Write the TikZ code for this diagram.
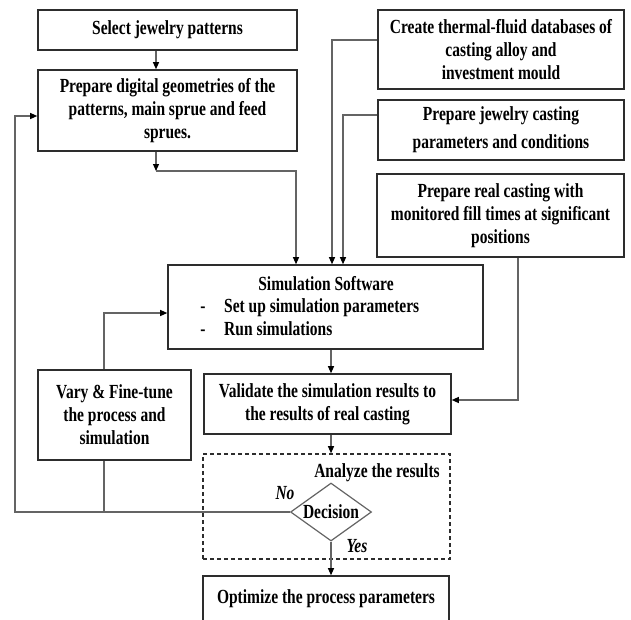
\documentclass[tikz,border=0pt]{standalone}
\usepackage{fontspec}
\setmainfont{Liberation Serif}[FakeStretch=0.775]
\usetikzlibrary{arrows.meta,shapes.geometric}
\definecolor{boxc}{RGB}{45,45,45}
\definecolor{linec}{RGB}{100,100,100}
\tikzset{
  box/.style={draw=boxc, line width=1.6pt, rectangle, inner sep=2pt, align=center,
    font=\fontsize{20}{23}\selectfont\bfseries, text=black},
  lbl/.style={font=\fontsize{20}{23}\selectfont\bfseries, text=black, inner sep=0pt},
  conn/.style={draw=linec, line width=1.1pt},
  arr/.style={conn, -{Triangle[length=7pt,width=6pt,color=black]}},
}
\begin{document}
\begin{tikzpicture}[x=1pt,y=-1pt]
\path[use as bounding box,clip] (0,0) rectangle (631,619);
% boxes
\node[box, minimum width=259pt, minimum height=40pt] (sel) at (167.5,30) {Select jewelry patterns};
\node[box, minimum width=259pt, minimum height=81pt] (geo) at (167.5,110.5) {Prepare digital geometries of the\\patterns, main sprue and feed\\sprues.};
\node[box, minimum width=246pt, minimum height=79pt] (therm) at (501,49.5) {Create thermal-fluid databases of\\casting alloy and\\investment mould};
\node[box, minimum width=246pt, minimum height=60pt, font=\fontsize{20}{28}\selectfont\bfseries] (par) at (501,130) {Prepare jewelry casting\\parameters and conditions};
\node[box, minimum width=247pt, minimum height=83pt] (real) at (500.5,215.5) {Prepare real casting with\\monitored fill times at significant\\positions};
\node[box, minimum width=315pt, minimum height=84pt] (sim) at (325.5,307) {};
\node[lbl] (simt) at (326,284) {Simulation Software};
\node[lbl, anchor=base west] (st1) at (224,312) {Set up simulation parameters};
\node[lbl, anchor=base west] (st2) at (224,335) {Run simulations};
\node[lbl, anchor=base] (d1) at (st1.base -| 203,0) {-};
\node[lbl, anchor=base] (d2) at (st2.base -| 203,0) {-};
\node[box, minimum width=247pt, minimum height=60pt] (val) at (327.5,404) {Validate the simulation results to\\the results of real casting};
\node[box, minimum width=153pt, minimum height=90pt] (vary) at (114.5,415) {Vary \& Fine-tune\\the process and\\simulation};
\node[box, dashed, dash pattern=on 4pt off 3pt, minimum width=247pt, minimum height=105pt] (ana) at (326.5,506.5) {};
\node[lbl] (anat) at (377,473) {Analyze the results};
\node[diamond, draw=linec, line width=1.2pt, inner sep=0pt, aspect=1.4, minimum width=81pt, minimum height=58pt,
      font=\fontsize{20}{23}\selectfont\bfseries] (dec) at (331,512) {Decision};
\node[lbl, font=\fontsize{20}{23}\selectfont\bfseries\itshape] (no) at (285,493) {No};
\node[lbl, font=\fontsize{20}{23}\selectfont\bfseries\itshape] (yes) at (357,546) {Yes};
\node[box, minimum width=246pt, minimum height=46pt] (opt) at (326,599) {Optimize the process parameters};
% coordinates
\coordinate (g1) at (156,171);
\coordinate (s1) at (296,171);
\coordinate (t1) at (332,40);
\coordinate (p1) at (343,115);
\coordinate (r1) at (518,400);
\coordinate (xa) at (331,0);
\coordinate (l1) at (15,512);
\coordinate (l2) at (15,116);
\coordinate (vx) at (104,0);
\coordinate (k1) at (104,313);
% connectors
\draw[arr] (sel.south -| g1) -- (geo.north -| g1);
\draw[arr] (geo.south -| g1) -- (g1);
\draw[arr] (g1) -- (s1) -- (sim.north -| s1);
\draw[arr] (therm.west |- t1) -- (t1) -- (sim.north -| t1);
\draw[arr] (par.west |- p1) -- (p1) -- (sim.north -| p1);
\draw[arr] (real.south -| r1) -- (r1) -- (val.east |- r1);
\draw[arr] (sim.south -| xa) -- (val.north -| xa);
\draw[arr] (val.south -| xa) -- (ana.north -| xa);
\draw[arr] (dec.south) -- (opt.north -| dec.south);
\draw[arr] (dec.west) -- (l1) -- (l2) -- (geo.west |- l2);
\draw[conn] (vary.south -| vx) -- (vx |- dec.west);
\draw[arr] (vary.north -| k1) -- (k1) -- (sim.west |- k1);
\end{tikzpicture}
\end{document}
